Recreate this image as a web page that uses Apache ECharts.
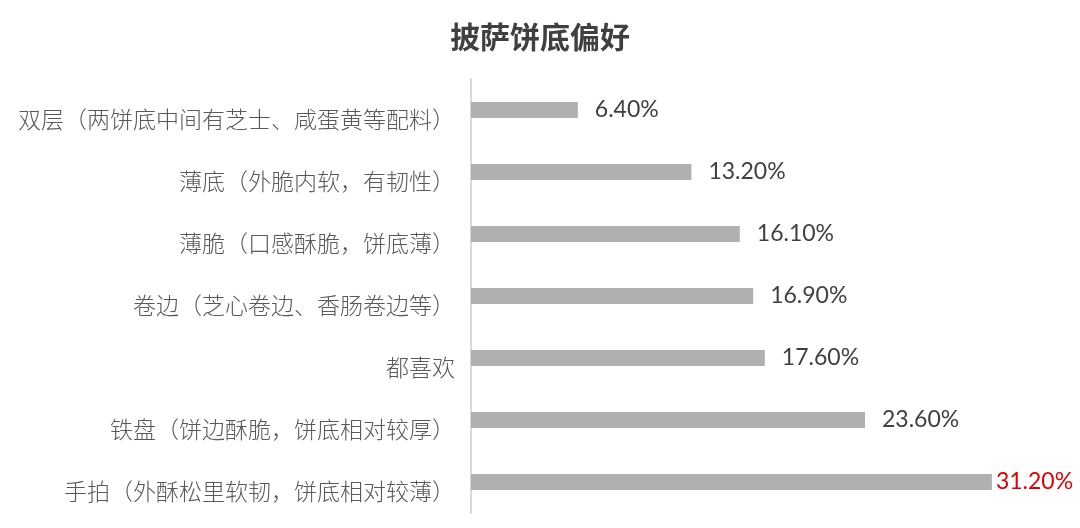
<!DOCTYPE html>
<html>
<head>
<meta charset="utf-8">
<script src="https://cdn.jsdelivr.net/npm/echarts@6/dist/echarts.min.js"></script>
<style>
  html, body { margin: 0; padding: 0; background: #fff; }
  #graphics { width: 1080px; height: 528px; }
</style>
</head>
<body>
<div id="graphics"></div>
<script>
// categories top to bottom
var categories = [
  '双层（两饼底中间有芝士、咸蛋黄等配料）',
  '薄底（外脆内软，有韧性）',
  '薄脆（口感酥脆，饼底薄）',
  '卷边（芝心卷边、香肠卷边等）',
  '都喜欢',
  '铁盘（饼边酥脆，饼底相对较厚）',
  '手拍（外酥松里软韧，饼底相对较薄）'
];
var shares = [6.4, 13.2, 16.1, 16.9, 17.6, 23.6, 31.2];
var highlightIndex = 6; // the top answer gets a red label

var myChart = echarts.init(document.getElementById('graphics'));

var barData = shares.map(function (v, i) {
  var item = { value: v };
  if (i === highlightIndex) {
    item.label = { color: '#e00000', distance: 4 };
  }
  return item;
});

option = {
  animation: false,
  title: {
    text: '披萨饼底偏好',
    left: 'center',
    top: 17,
    textStyle: {
      fontFamily: 'Noto Sans CJK SC',
      fontSize: 30,
      fontWeight: 'bold',
      color: '#404040'
    }
  },
  grid: {
    left: 471,
    right: 28,
    top: 79,
    bottom: 15
  },
  xAxis: {
    type: 'value',
    min: 0,
    max: 34.8,
    show: false
  },
  yAxis: {
    type: 'category',
    data: categories,
    inverse: true,
    axisLine: { show: true, lineStyle: { color: '#d9d9d9', width: 2 } },
    axisTick: { show: false },
    axisLabel: {
      margin: 16,
      verticalAlign: 'top', // labels sit a bit below the bar centre
      lineHeight: 18,
      fontFamily: 'Noto Sans CJK SC',
      fontSize: 23,
      fontWeight: 300,
      color: '#595959'
    }
  },
  series: [{
    type: 'bar',
    data: barData,
    barWidth: 16,
    itemStyle: { color: '#b0b0b0' },
    label: {
      show: true,
      position: 'right',
      distance: 17,
      fontFamily: 'Lato',
      fontSize: 23,
      color: '#404040',
      formatter: function (p) { return p.value.toFixed(2) + '%'; }
    }
  }]
};

myChart.setOption(option);
</script>
</body>
</html>
